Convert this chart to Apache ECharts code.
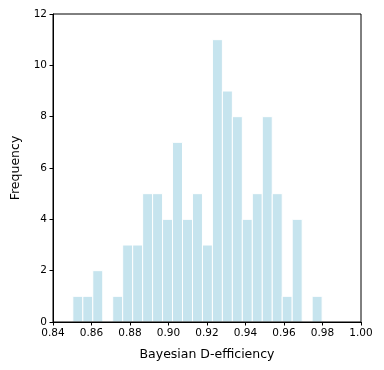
<!DOCTYPE html>
<html><head><meta charset="utf-8">
<script src="https://cdn.jsdelivr.net/npm/echarts@6/dist/echarts.min.js"></script>
<style>html,body{margin:0;padding:0;background:#fff}#c{width:384px;height:370px}</style>
</head><body><div id="c"></div>
<script>
// Histogram data
var binStart = 0.8503;
var binWidth = 0.00518;
var counts = [1,1,2,0,1,3,3,5,5,4,7,4,5,3,11,9,8,4,5,8,5,1,4,0,1];
var xTicks = [0.84,0.86,0.88,0.90,0.92,0.94,0.96,0.98,1.00];
var yTicks = [0,2,4,6,8,10,12];

var bins = counts.map(function(c,i){
  var lo = binStart + i*binWidth;
  return [lo, lo+binWidth, c];
});

var chart = echarts.init(document.getElementById('c'), null, {renderer:'canvas'});
var font = 'DejaVu Sans';
chart.setOption({
  animation:false,
  grid:{left:53,top:14,width:308,height:308,show:true,borderColor:'#000',borderWidth:1,backgroundColor:'transparent',z:10},
  xAxis:{type:'value',min:0.84,max:1.0,interval:0.02,z:10,
    name:'Bayesian D-efficiency',nameLocation:'middle',nameGap:26,
    nameTextStyle:{fontFamily:font,fontSize:12.5,color:'#000'},
    axisLine:{show:true,lineStyle:{color:'#000',width:1}},
    axisTick:{show:true,inside:false,length:3.5,lineStyle:{color:'#000'}},
    axisLabel:{fontFamily:font,fontSize:10.5,color:'#000',margin:6,
      formatter:function(v){return v.toFixed(2);}},
    splitLine:{show:false}},
  yAxis:{type:'value',min:0,max:12,interval:2,z:10,
    name:'Frequency',nameLocation:'middle',nameGap:29,nameRotate:90,
    nameTextStyle:{fontFamily:font,fontSize:12.5,color:'#000'},
    axisLine:{show:true,lineStyle:{color:'#000',width:1}},
    axisTick:{show:true,inside:false,length:3.5,lineStyle:{color:'#000'}},
    axisLabel:{fontFamily:font,fontSize:10.5,color:'#000',margin:6},
    splitLine:{show:false}},
  series:[{
    type:'custom',
    z:1,
    data:bins,
    encode:{x:[0,1],y:2},
    renderItem:function(params,api){
      if (!api.value(2)) return null;
      var p0 = api.coord([api.value(0),0]);
      var p1 = api.coord([api.value(1),api.value(2)]);
      return {type:'rect',
        shape:{x:p0[0],y:p1[1],width:p1[0]-p0[0],height:p0[1]-p1[1]},
        style:{fill:'#c6e4ee',stroke:'#ffffff',lineWidth:1}};
    }
  }]
});
</script></body></html>
